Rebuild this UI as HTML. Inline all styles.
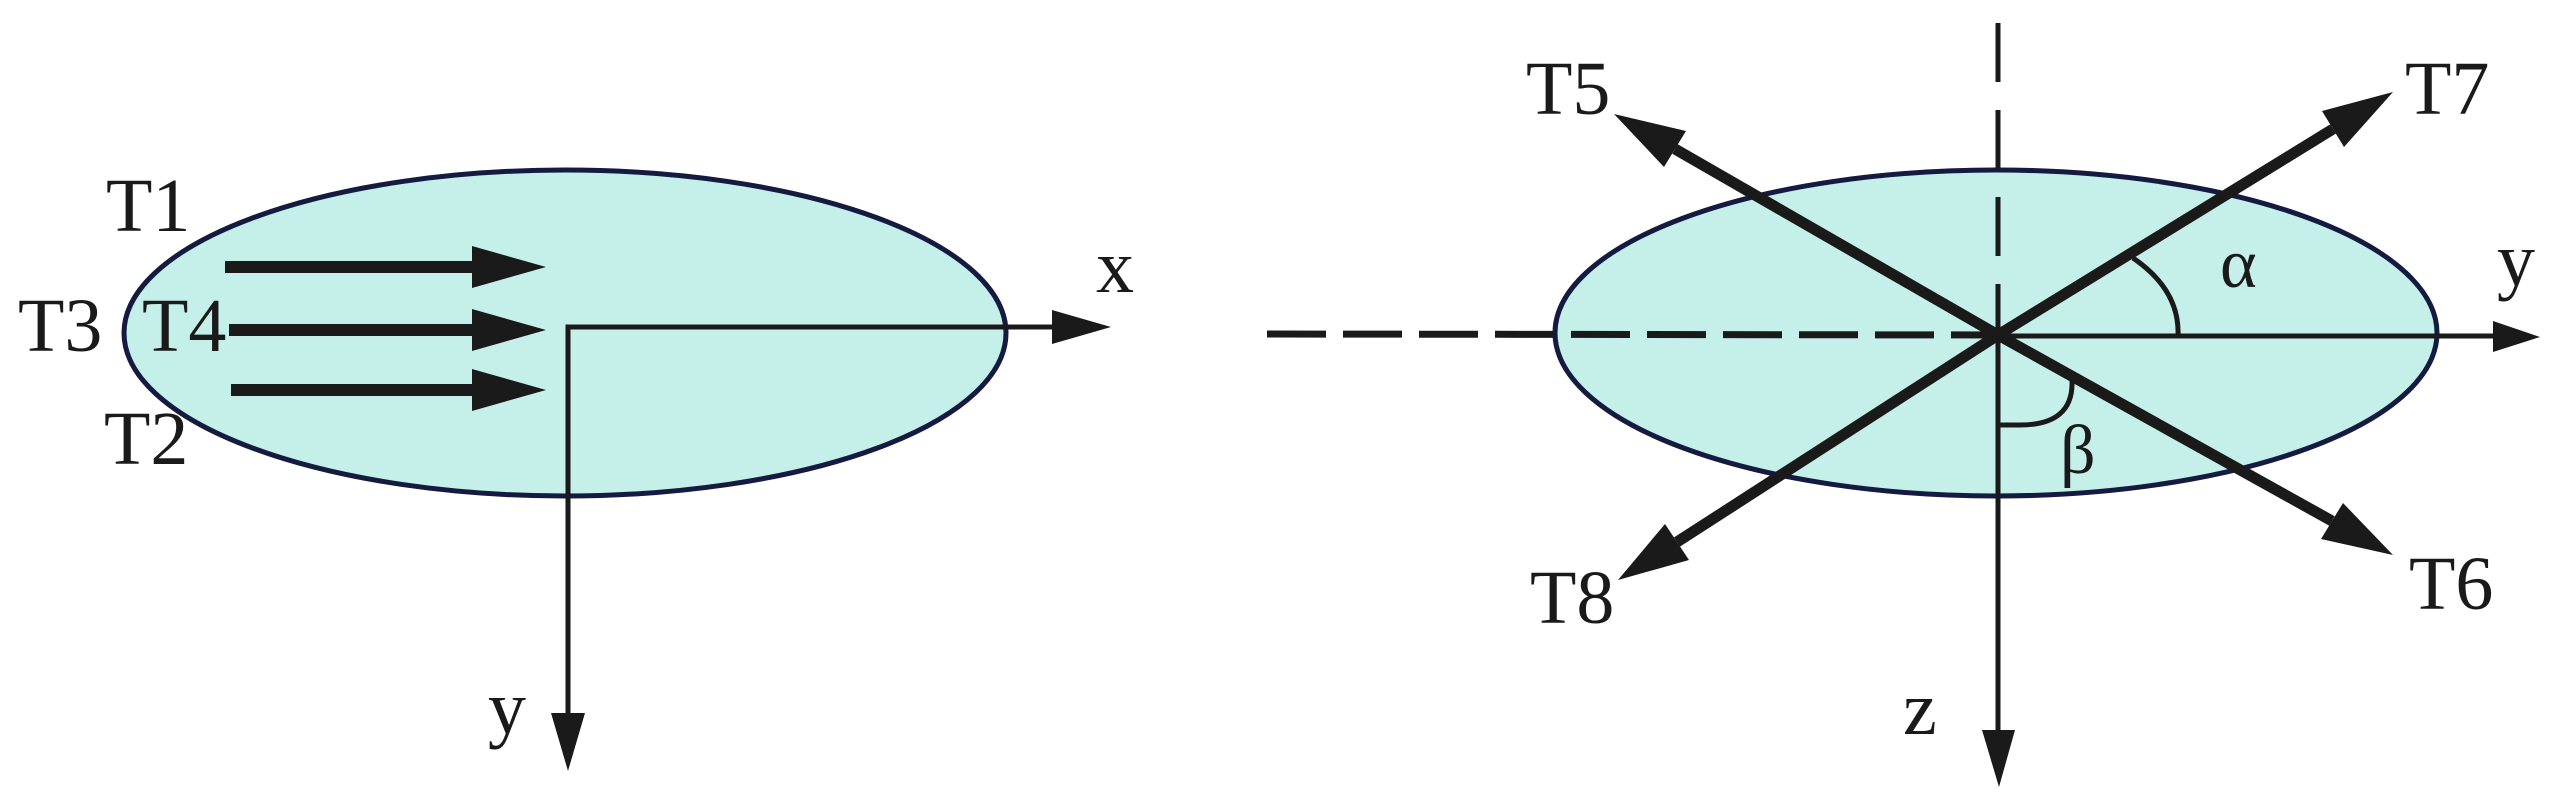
<!DOCTYPE html>
<html><head><meta charset="utf-8"><style>html,body{margin:0;padding:0;background:#fff}svg{display:block}</style></head>
<body>
<svg width="2556" height="797" viewBox="0 0 2556 797" xmlns="http://www.w3.org/2000/svg" font-family="'Liberation Serif', serif" font-size="76" fill="#1a1a1a">
<!-- LEFT -->
<ellipse cx="565" cy="333" rx="441" ry="163" fill="#c5efe9" stroke="#141a40" stroke-width="5"/>
<g stroke="#1a1a1a" stroke-width="12">
<line x1="225" y1="267" x2="480" y2="267"/>
<line x1="229" y1="330" x2="480" y2="330"/>
<line x1="231" y1="390" x2="480" y2="390"/>
</g>
<polygon points="472,246 546,267 472,288"/>
<polygon points="472,309 546,330 472,351"/>
<polygon points="472,369 546,390 472,411"/>
<g stroke="#1a1a1a" stroke-width="5" fill="none">
<polyline points="568,722 568,327 1060,327"/>
</g>
<polygon points="1052,310 1111,327 1052,344"/>
<polygon points="551,713 585,713 568,771"/>
<text x="106" y="231">T1</text>
<text x="18" y="351">T3</text>
<text x="142" y="351">T4</text>
<text x="104" y="464">T2</text>
<text x="1096" y="292">x</text>
<text x="488" y="733">y</text>
<!-- RIGHT -->
<ellipse cx="1996" cy="333" rx="441" ry="163" fill="#c5efe9" stroke="#141a40" stroke-width="5"/>
<line x1="1998" y1="23" x2="1998" y2="335" stroke="#1a1a1a" stroke-width="5" stroke-dasharray="59,28"/>
<line x1="1267" y1="334" x2="1998" y2="335" stroke="#1a1a1a" stroke-width="7" stroke-dasharray="59,17"/>
<line x1="1998" y1="336" x2="2500" y2="336" stroke="#1a1a1a" stroke-width="5"/>
<polygon points="2493,321 2540,337 2493,352"/>
<line x1="1998" y1="335" x2="1998" y2="735" stroke="#1a1a1a" stroke-width="5"/>
<polygon points="1982,730 2015,730 1999,787"/>
<g stroke="#1a1a1a" stroke-width="11">
<line x1="1998" y1="335" x2="1675" y2="149"/>
<line x1="1998" y1="335" x2="2333" y2="129"/>
<line x1="1998" y1="335" x2="2332" y2="521"/>
<line x1="1998" y1="335" x2="1677" y2="542"/>
</g>
<polygon points="1614,114 1686,131 1664,167"/>
<polygon points="2393,92 2344,147 2322,111"/>
<polygon points="2393,555 2321,539 2343,503"/>
<polygon points="1618,580 1689,560 1665,524"/>
<g stroke="#1a1a1a" stroke-width="5" fill="none">
<path d="M2133,258 Q2180,290 2178,336"/>
<path d="M1999,425 L2020,425 Q2074,425 2072,380"/>
</g>
<text x="1526" y="114">T5</text>
<text x="2405" y="114">T7</text>
<text x="1530" y="623">T8</text>
<text x="2409" y="609">T6</text>
<text x="2220" y="287" font-size="70">α</text>
<text x="2497" y="285">y</text>
<text x="2060" y="473" font-size="70">β</text>
<text x="1903" y="734">z</text>
</svg>
</body></html>
